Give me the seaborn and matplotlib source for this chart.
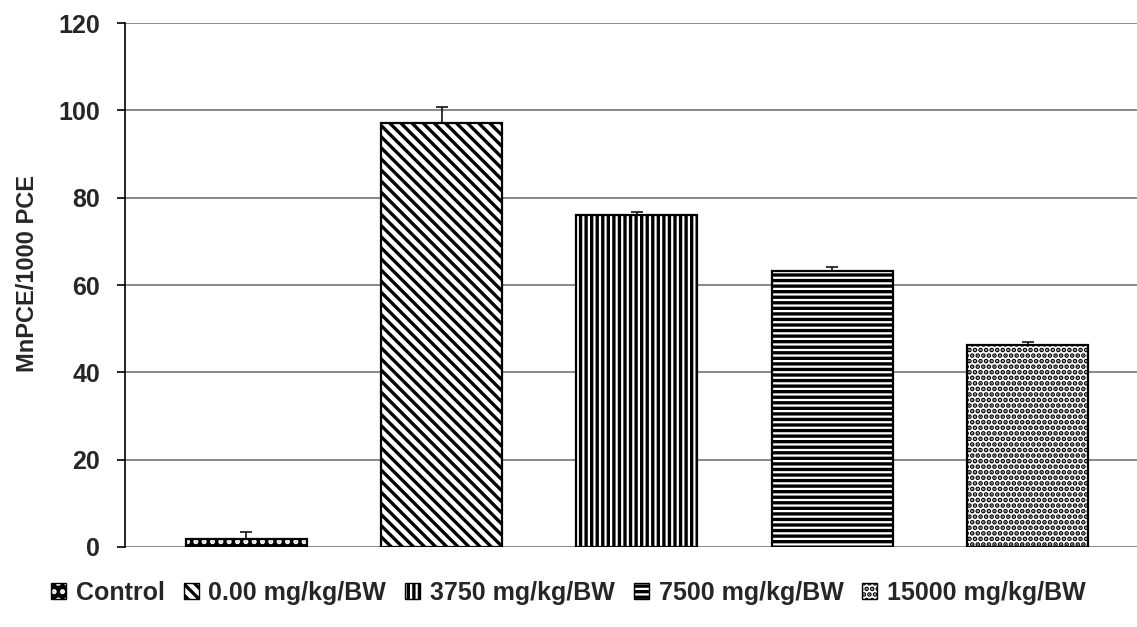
import matplotlib
matplotlib.use("Agg")
import matplotlib.pyplot as plt
from matplotlib.patches import Patch
from matplotlib.legend_handler import HandlerTuple
import seaborn as sns

# data
groups = ["Control", "0.00 mg/kg/BW", "3750 mg/kg/BW", "7500 mg/kg/BW", "15000 mg/kg/BW"]
mnpce = [1.8, 97.0, 76.0, 63.2, 46.2]
sem = [1.7, 3.7, 0.7, 0.9, 0.7]
y_ticks = [0, 20, 40, 60, 80, 100, 120]

# styling per bar: fill, hatch, hatch colour
fills = ["black", "white", "white", "white", "white"]
hatches = ["..", "\\\\\\", "|||", "---", "..."]
hatch_cols = ["white", "black", "black", "black", "black"]

sns.set_style("white")
plt.rcParams["font.family"] = ["Liberation Sans", "DejaVu Sans"]
plt.rcParams["font.weight"] = "bold"
plt.rcParams["hatch.linewidth"] = 2.4

fig = plt.figure(figsize=(11.37, 6.27), dpi=100)
ax = fig.add_axes([0.110, 0.1276, 0.890, 0.8357])

sns.barplot(x=groups, y=mnpce, hue=groups, order=groups, hue_order=groups,
            palette=["white"] * 5, width=0.62, errorbar=None, legend=False, ax=ax)

for bar, fc, h, hc in zip(ax.patches, fills, hatches, hatch_cols):
    bar.set_facecolor(fc)
    bar.set_hatch(h)
    bar.set_edgecolor(hc)
    bar.set_linewidth(0)

# black outlines on top of the hatched bars
xs = list(range(len(groups)))
ax.bar(xs, mnpce, width=0.62, fill=False, edgecolor="black", linewidth=1.6, zorder=3)

# one-sided error bars
ax.errorbar(xs, mnpce, yerr=[[0] * 5, sem], fmt="none", ecolor="black",
            elinewidth=1.1, capsize=4.5, capthick=1.1, zorder=4)

ax.set_xlim(-0.62, 4.56)
ax.set_ylim(0, 120)
ax.set_yticks(y_ticks)
ax.set_yticklabels([str(t) for t in y_ticks], fontsize=18, fontweight="bold")
ax.set_xticks([])
ax.set_xlabel("")
ax.set_ylabel("MnPCE/1000 PCE", fontsize=17, fontweight="bold")
ax.yaxis.set_label_coords(-0.085, 0.521)

ax.yaxis.grid(True, color="#808080", linewidth=1.3)
ax.set_axisbelow(True)
ax.tick_params(axis="y", left=True, length=6, width=1.2, color="black", pad=12)
for side in ["top", "right", "bottom"]:
    ax.spines[side].set_visible(False)
ax.spines["left"].set_color("black")
ax.spines["left"].set_linewidth(1.2)

# legend with hatched squares
handles = []
for fc, h, hc in zip(fills, hatches, hatch_cols):
    inner = Patch(facecolor=fc, hatch=h, edgecolor=hc, linewidth=0)
    outline = Patch(facecolor="none", edgecolor="black", linewidth=1.0)
    handles.append((inner, outline))

fig.legend(handles, groups, loc="center", bbox_to_anchor=(0.5, 0.054), ncol=5,
           frameon=False, handlelength=0.6, handleheight=0.6, handletextpad=0.4,
           columnspacing=0.75, prop={"size": 18, "weight": "bold"},
           handler_map={tuple: HandlerTuple(ndivide=1, pad=0)})

fig.savefig("out.png", dpi=100)
